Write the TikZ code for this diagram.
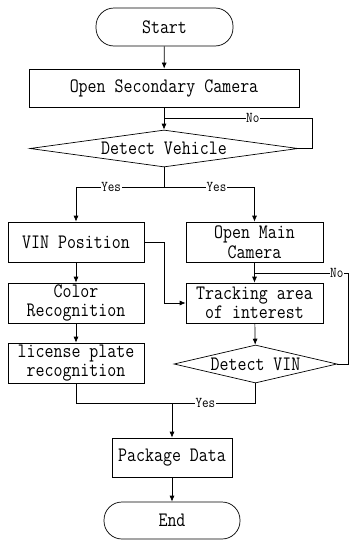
\documentclass[tikz,border=0pt]{standalone}
\usepackage{fontspec}
\setmonofont[FakeStretch=0.85]{Latin Modern Mono}
\usetikzlibrary{shapes.geometric,arrows.meta}
\begin{document}
\begin{tikzpicture}[x=1pt,y=-1pt,
  every node/.style={font=\ttfamily\fontsize{20.5}{19.5}\selectfont},
  box/.style={draw,line width=0.7pt,inner sep=0pt,align=center},
  term/.style={box,rounded corners=18pt},
  dia/.style={draw,line width=0.7pt,diamond,inner sep=0pt},
  lbl/.style={fill=white,inner sep=0.5pt,font=\ttfamily\fontsize{15}{15}\selectfont},
  ln/.style={line width=0.7pt},
  arr/.style={ln,-{Latex[length=6pt,width=5pt]}}]
\useasboundingbox (0,0) rectangle (352,541);
\fill[white] (0,0) rectangle (352,541);
\node[term,minimum width=137pt,minimum height=38pt] (start) at (164.5,27) {Start};
\node[box,minimum width=270pt,minimum height=38pt] (osc) at (164,88) {Open Secondary Camera};
\node[dia,shape aspect=7.2,minimum width=268pt,minimum height=37pt] (dv) at (164,148.5) {Detect Vehicle};
\node[box,minimum width=136pt,minimum height=40pt] (vin) at (76,242) {VIN Position};
\node[box,minimum width=137pt,minimum height=40pt] (omc) at (254.5,242) {Open Main\\Camera};
\node[box,minimum width=136pt,minimum height=40pt] (col) at (76,303) {Color\\Recognition};
\node[box,minimum width=137pt,minimum height=40pt] (trk) at (254.5,303) {Tracking area\\of interest};
\node[box,minimum width=136pt,minimum height=40pt] (lpr) at (76,363) {license plate\\recognition};
\node[dia,shape aspect=4.3,minimum width=163pt,minimum height=38pt] (dvin) at (255.5,364) {Detect VIN};
\node[box,minimum width=120pt,minimum height=39pt] (pkg) at (172,457.5) {Package Data};
\node[term,minimum width=136pt,minimum height=37pt] (end) at (172,520.5) {End};
\coordinate (j1) at (164,118);
\coordinate (n1) at (312,118);
\coordinate (sp) at (164,187);
\coordinate (j2) at (254.5,273);
\coordinate (n2) at (348,273);
\coordinate (m) at (172,403);
\draw[arr] (start) -- (osc);
\draw[arr] (osc) -- (dv);
\draw[ln] (dv.east) -| (n1) -- node[lbl,pos=0.4]{No} (j1);
\draw[ln] (dv.south) -- (sp);
\draw[arr] (sp) -| node[lbl,pos=0.3]{Yes} (vin.north);
\draw[arr] (sp) -| node[lbl,pos=0.29]{Yes} (omc.north);
\draw[arr] (vin) -- (col);
\draw[arr] (col) -- (lpr);
\draw[arr] (vin.east) -- ++(20,0) |- (trk.west);
\draw[arr] (omc) -- (trk);
\draw[arr] (trk) -- (dvin);
\draw[ln] (dvin.east) -| (n2) -- node[lbl,pos=0.12]{No} (j2);
\draw[ln] (lpr.south) |- (m);
\draw[ln] (dvin.south) |- node[lbl,pos=0.8]{Yes} (m);
\draw[arr] (m) -- (pkg);
\draw[arr] (pkg) -- (end);
\end{tikzpicture}
\end{document}
